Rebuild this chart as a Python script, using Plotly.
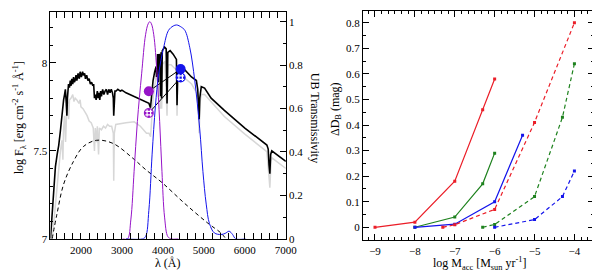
import plotly.graph_objects as go

# ---------------- Left panel data ----------------
# Total spectrum (star + accretion), log F_lambda
wl_total = [1256, 1290, 1330, 1377, 1420, 1457, 1497, 1540, 1577, 1600, 1620, 1640, 1657, 1670, 1697, 1720,
            1740, 1760, 1777, 1800, 1820, 1840, 1857, 1880, 1900, 1930, 1960, 1980, 2010, 2040, 2060, 2090,
            2110, 2140, 2170, 2200, 2230, 2260, 2290, 2310, 2330, 2350, 2370, 2400, 2420, 2440, 2460, 2480,
            2500, 2530, 2560, 2590, 2620, 2650, 2680, 2710, 2740, 2770, 2790, 2800, 2810, 2830, 2860, 2900,
            2960, 3000, 3100, 3200, 3300, 3400, 3500, 3600, 3660, 3697, 3720, 3760, 3800, 3835, 3845, 3857,
            3870, 3889, 3905, 3935, 3945, 3955, 3970, 3985, 4041, 4080, 4101, 4120, 4177, 4250, 4297, 4330,
            4345, 4365, 4393, 4537, 4697, 4817, 4850, 4870, 4885, 4900, 4937, 5017, 5177, 5500, 6000, 6537,
            6570, 6590, 6610, 6630, 6657, 7000]
f_total = [7.00, 7.12, 7.25, 7.41, 7.48, 7.53, 7.61, 7.72, 7.79, 7.82, 7.85, 7.78, 7.70, 7.80, 7.88, 7.86,
           7.90, 7.87, 7.91, 7.88, 7.92, 7.89, 7.90, 7.93, 7.90, 7.94, 7.91, 7.95, 7.92, 7.95, 7.93, 7.94,
           7.91, 7.93, 7.90, 7.91, 7.88, 7.89, 7.87, 7.88, 7.80, 7.82, 7.79, 7.84, 7.80, 7.83, 7.79, 7.84,
           7.81, 7.85, 7.82, 7.84, 7.85, 7.82, 7.85, 7.83, 7.85, 7.83, 7.80, 7.70, 7.80, 7.84, 7.84, 7.85,
           7.84, 7.845, 7.83, 7.82, 7.81, 7.80, 7.79, 7.78, 7.77, 7.745, 7.80, 7.90, 7.95, 7.98, 7.92, 8.04,
           8.05, 7.89, 8.05, 8.04, 7.81, 8.06, 7.80, 8.07, 8.09, 8.08, 7.77, 8.06, 8.07, 8.05, 8.03, 8.02,
           7.76, 7.98, 7.97, 7.96, 7.92, 7.90, 7.85, 7.70, 7.68, 7.80, 7.865, 7.857, 7.80, 7.73, 7.63, 7.533,
           7.51, 7.42, 7.37, 7.48, 7.50, 7.44]

# Stellar photosphere only
wl_star = [1300, 1340, 1377, 1420, 1457, 1500, 1537, 1560, 1575, 1600, 1625, 1650, 1680, 1700, 1720, 1760,
           1800, 1830, 1860, 1900, 1950, 1980, 2000, 2050, 2100, 2150, 2200, 2250, 2300, 2330, 2350, 2380,
           2400, 2430, 2450, 2500, 2550, 2600, 2650, 2700, 2750, 2790, 2800, 2815, 2850, 2950, 3100, 3300,
           3450, 3600, 3660, 3700, 3760, 3857, 3889, 3913, 3945, 3960, 3970, 3990, 4050, 4101, 4130, 4200,
           4330, 4345, 4365, 4500, 4700, 4850, 4870, 4885, 4910, 4937, 5017, 5500, 6000, 6537, 6590, 6610,
           6640, 6660, 7000]
f_star = [7.00, 7.10, 7.22, 7.33, 7.40, 7.50, 7.56, 7.45, 7.62, 7.70, 7.55, 7.72, 7.78, 7.68, 7.79, 7.80,
          7.82, 7.78, 7.80, 7.79, 7.77, 7.79, 7.75, 7.74, 7.72, 7.70, 7.67, 7.66, 7.63, 7.50, 7.63, 7.55,
          7.64, 7.48, 7.63, 7.62, 7.64, 7.63, 7.65, 7.64, 7.64, 7.60, 7.33, 7.60, 7.65, 7.655, 7.66, 7.665,
          7.64, 7.60, 7.60, 7.58, 7.80, 7.96, 7.80, 7.97, 7.74, 7.98, 7.74, 7.99, 8.01, 7.70, 7.99, 7.99,
          7.96, 7.70, 7.93, 7.92, 7.88, 7.82, 7.62, 7.60, 7.78, 7.82, 7.82, 7.695, 7.595, 7.495, 7.35, 7.29,
          7.44, 7.46, 7.40]

# Accretion continuum (dashed)
wl_acc = [1297, 1417, 1577, 1817, 2057, 2378, 2777, 3257, 3577, 3977, 4537, 5097, 5417, 5537]
f_acc = [7.00, 7.144, 7.31, 7.44, 7.524, 7.56, 7.543, 7.46, 7.394, 7.32, 7.20, 7.089, 7.033, 7.00]

# Filter transmissivities
wl_u = [3017, 3137, 3217, 3297, 3377, 3481, 3577, 3640, 3681, 3720, 3777, 3857, 3921, 3977, 4041, 4121, 4200, 4377]
t_u = [0, 0, 0.087, 0.31, 0.54, 0.76, 0.94, 0.99, 1.0, 0.99, 0.94, 0.76, 0.54, 0.31, 0.10, 0.01, 0, 0]
wl_b = [3100, 3500, 3577, 3657, 3737, 3817, 3897, 4017, 4137, 4250, 4337, 4450, 4537, 4657, 4777, 4897,
        4977, 5057, 5137, 5257, 5417, 5520, 5617, 5700, 5777, 6017]
t_b = [0, 0, 0.01, 0.13, 0.39, 0.61, 0.76, 0.88, 0.96, 0.98, 0.985, 0.975, 0.96, 0.88, 0.73, 0.51,
       0.31, 0.16, 0.07, 0.027, 0.02, 0.025, 0.035, 0.02, 0.0, 0]

# Photometric points
phot_wl = [3657, 4433]
phot_total = [7.839, 7.965]
phot_star = [7.715, 7.917]

# ---------------- Right panel data ----------------
m_red_solid = [-9, -8, -7, -6.3, -6]
d_red_solid = [0, 0.02, 0.18, 0.46, 0.58]
m_green_solid = [-8, -7, -6.3, -6]
d_green_solid = [0, 0.04, 0.17, 0.29]
m_blue_solid = [-8, -7, -6, -5.3]
d_blue_solid = [0, 0.012, 0.10, 0.36]
m_red_dash = [-7.3, -7, -6, -5, -4]
d_red_dash = [0, 0.01, 0.07, 0.41, 0.80]
m_green_dash = [-6.3, -6, -5, -4.3, -4]
d_green_dash = [0, 0.011, 0.12, 0.43, 0.64]
m_blue_dash = [-6, -5, -4.3, -4]
d_blue_dash = [0, 0.03, 0.12, 0.22]

VIOLET = "rgb(150,20,200)"
BLUE = "rgb(20,20,235)"
RED = "rgb(235,30,40)"
GREEN = "rgb(30,130,30)"
FONT = "Liberation Serif, Times New Roman, serif"

fig = go.Figure()

# Left panel
fig.add_trace(go.Scatter(x=wl_star, y=f_star, mode="lines", line=dict(color="rgb(215,215,215)", width=1.5),
                         xaxis="x", yaxis="y", showlegend=False))
fig.add_trace(go.Scatter(x=wl_acc, y=f_acc, mode="lines", line=dict(color="black", width=1, dash="4px,3px", shape="spline"),
                         xaxis="x", yaxis="y", showlegend=False))
fig.add_trace(go.Scatter(x=wl_u, y=t_u, mode="lines", line=dict(color=VIOLET, width=1, shape="spline"),
                         xaxis="x", yaxis="y2", showlegend=False))
fig.add_trace(go.Scatter(x=wl_b, y=t_b, mode="lines", line=dict(color=BLUE, width=1, shape="spline"),
                         xaxis="x", yaxis="y2", showlegend=False))
fig.add_trace(go.Scatter(x=wl_total, y=f_total, mode="lines", line=dict(color="black", width=1.6),
                         xaxis="x", yaxis="y", showlegend=False))
# connecting lines between photometric points
fig.add_trace(go.Scatter(x=phot_wl, y=phot_total, mode="lines", line=dict(color="black", width=1),
                         xaxis="x", yaxis="y", showlegend=False))
fig.add_trace(go.Scatter(x=phot_wl, y=phot_star, mode="lines", line=dict(color="black", width=1),
                         xaxis="x", yaxis="y", showlegend=False))
# filled markers (total)
fig.add_trace(go.Scatter(x=phot_wl, y=phot_total, mode="markers",
                         marker=dict(color=[VIOLET, BLUE], size=10, symbol="circle", line=dict(width=0)),
                         xaxis="x", yaxis="y", showlegend=False))
# hatched markers (star only)
fig.add_trace(go.Scatter(x=phot_wl, y=phot_star, mode="markers",
                         marker=dict(color=[VIOLET, BLUE], size=10, symbol="circle", line=dict(width=0)),
                         xaxis="x", yaxis="y", showlegend=False))
fig.add_trace(go.Scatter(x=phot_wl, y=phot_star, mode="markers",
                         marker=dict(color="white", size=7, symbol="hash",
                                     line=dict(color="white", width=1.2)),
                         xaxis="x", yaxis="y", showlegend=False))

# Right panel
def add_series(m, d, color, dash):
    fig.add_trace(go.Scatter(x=m, y=d, mode="lines+markers",
                             line=dict(color=color, width=1.2, dash=dash),
                             marker=dict(color=color, size=3, symbol="square"),
                             xaxis="x2", yaxis="y3", showlegend=False))

add_series(m_red_solid, d_red_solid, RED, "solid")
add_series(m_green_solid, d_green_solid, GREEN, "solid")
add_series(m_blue_solid, d_blue_solid, BLUE, "solid")
add_series(m_red_dash, d_red_dash, RED, "4px,3px")
add_series(m_green_dash, d_green_dash, GREEN, "4px,3px")
add_series(m_blue_dash, d_blue_dash, BLUE, "4px,3px")

tickfont = dict(family=FONT, size=11, color="black")
axis_common = dict(showline=True, linecolor="black", linewidth=1, ticks="inside", tickcolor="black",
                   ticklen=6, tickwidth=1, showgrid=False, zeroline=False, tickfont=tickfont)

fig.update_layout(
    width=600, height=273,
    margin=dict(l=0, r=0, t=0, b=0),
    paper_bgcolor="white", plot_bgcolor="white",
    font=dict(family=FONT, size=12, color="black"),
    xaxis=dict(domain=[0.0722, 0.4725], range=[1256, 7000], tickvals=[2000, 3000, 4000, 5000, 6000, 7000],
               mirror="allticks", anchor="y", ticklabelstandoff=1,
               minor=dict(ticks="inside", ticklen=3, dtick=200, tick0=1000, tickcolor="black"), **axis_common),
    yaxis=dict(domain=[0.1355, 0.9853], range=[7, 8.29], tickvals=[7, 7.5, 8], ticktext=["7", "7.5", "8"],
               anchor="x",
               minor=dict(ticks="inside", ticklen=3, dtick=0.1, tick0=7, tickcolor="black"), **axis_common),
    yaxis2=dict(overlaying="y", side="right", anchor="x", range=[0, 1.045],
                tickvals=[0, 0.2, 0.4, 0.6, 0.8, 1], ticktext=["0", "0.2", "0.4", "0.6", "0.8", "1"],
                minor=dict(ticks="inside", ticklen=3, dtick=0.1, tick0=0, tickcolor="black"), **axis_common),
    xaxis2=dict(domain=[0.6038, 0.9972], range=[-9.3, -3.5], tickvals=[-9, -8, -7, -6, -5, -4],
                mirror="allticks", anchor="y3", ticklabelstandoff=1,
                minor=dict(ticks="inside", ticklen=3, dtick=1/6, tick0=-9, tickcolor="black"), **axis_common),
    yaxis3=dict(domain=[0.1308, 0.9879], range=[-0.05, 0.845],
                tickvals=[0, 0.1, 0.2, 0.3, 0.4, 0.5, 0.6, 0.7, 0.8],
                ticktext=["0", "0.1", "0.2", "0.3", "0.4", "0.5", "0.6", "0.7", "0.8"],
                mirror="allticks", anchor="x2",
                minor=dict(ticks="inside", ticklen=3, dtick=0.05, tick0=0, tickcolor="black"), **axis_common),
)

titlefont = dict(family=FONT, size=12, color="black")
fig.add_annotation(text="log F<sub>λ</sub> [erg cm<sup>-2</sup> s<sup>-1</sup> Å<sup>-1</sup>]",
                   x=12 / 600, y=1 - 112 / 273, xref="paper", yref="paper", showarrow=False,
                   textangle=-90, font=titlefont, xanchor="center", yanchor="middle")
fig.add_annotation(text="UB Transmissivity", x=314 / 600, y=1 - 112 / 273, xref="paper", yref="paper",
                   showarrow=False, textangle=90, font=titlefont, xanchor="center", yanchor="middle")
fig.add_annotation(text="λ (Å)", x=163 / 600, y=1 - 261 / 273, xref="paper", yref="paper",
                   showarrow=False, font=titlefont, xanchor="center", yanchor="middle")
fig.add_annotation(text="ΔD<sub>B</sub> (mag)", x=334 / 600, y=1 - 103 / 273, xref="paper", yref="paper",
                   showarrow=False, textangle=-90, font=titlefont, xanchor="center", yanchor="middle")
fig.add_annotation(text="log M<sub>acc</sub> [M<sub>sun</sub> yr<sup>-1</sup>]", x=481 / 600, y=1 - 261 / 273,
                   xref="paper", yref="paper", showarrow=False, font=titlefont, xanchor="center",
                   yanchor="middle")

fig.write_html("out.html")
